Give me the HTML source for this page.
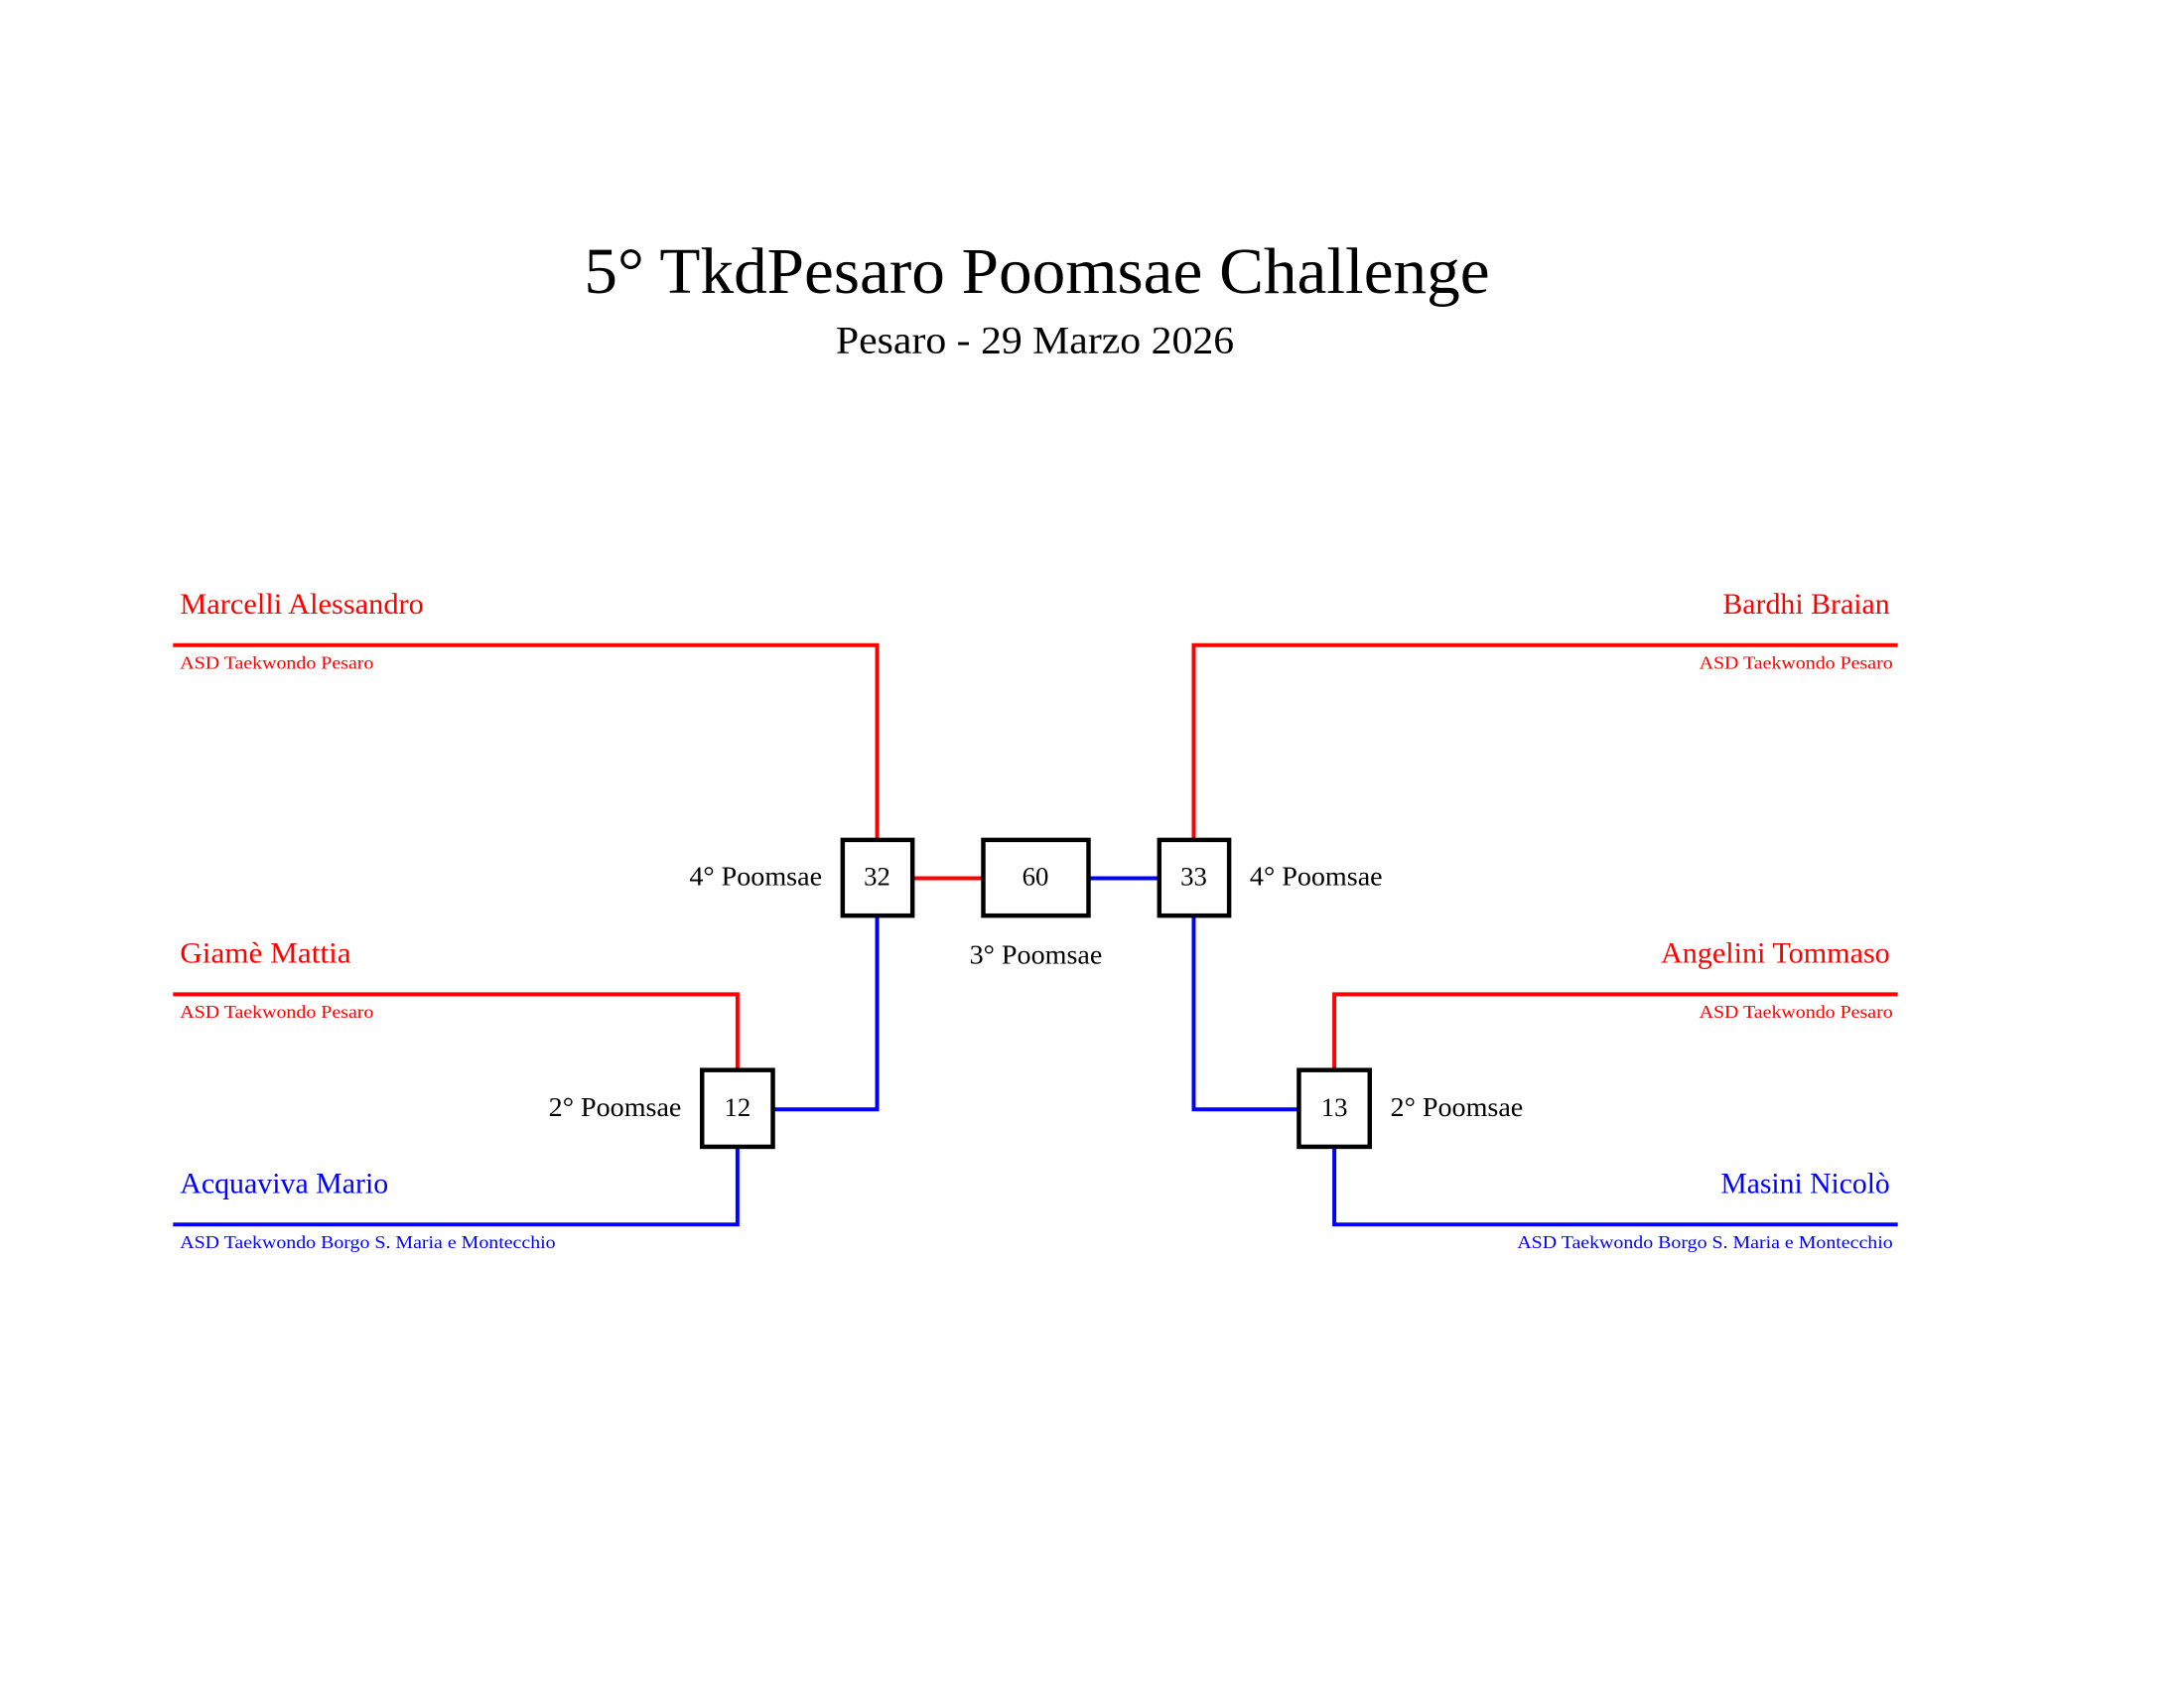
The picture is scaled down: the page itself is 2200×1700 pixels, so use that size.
<!DOCTYPE html>
<html><head><meta charset="utf-8"><style>html,body{margin:0;padding:0;background:#fff}svg{display:block}</style></head><body>
<svg width="2200" height="1700" viewBox="0 0 2200 1700" xmlns="http://www.w3.org/2000/svg" font-family="Liberation Serif, serif">
<rect width="2200" height="1700" fill="#fff"/>
<g transform="scale(0.9905)">
<text x="594" y="298" font-size="66" textLength="921" lengthAdjust="spacingAndGlyphs">5° TkdPesaro Poomsae Challenge</text>
<text x="850" y="359" font-size="40" textLength="405" lengthAdjust="spacingAndGlyphs">Pesaro - 29 Marzo 2026</text>
<g fill="none" stroke-width="4">
<polyline points="176,656 892,656 892,853" stroke="#f00"/>
<polyline points="176,1011 750,1011 750,1087" stroke="#f00"/>
<polyline points="892,931 892,1128 787,1128" stroke="#00f"/>
<polyline points="750,1167 750,1245 176,1245" stroke="#00f"/>
<line x1="928" y1="893" x2="999" y2="893" stroke="#f00"/>
<line x1="1107" y1="893" x2="1178" y2="893" stroke="#00f"/>
<polyline points="1930,656 1214,656 1214,853" stroke="#f00"/>
<polyline points="1930,1011 1357,1011 1357,1087" stroke="#f00"/>
<polyline points="1214,931 1214,1128 1319,1128" stroke="#00f"/>
<polyline points="1357,1167 1357,1245 1930,1245" stroke="#00f"/>
<g stroke="#000" stroke-width="4.5">
<rect x="857" y="854" width="71" height="77"/>
<rect x="1000" y="854" width="107" height="77"/>
<rect x="1179" y="854" width="71" height="77"/>
<rect x="714" y="1088" width="72" height="78"/>
<rect x="1321" y="1088" width="72" height="78"/>
</g></g>
<g font-size="27" text-anchor="middle">
<text x="892" y="900">32</text><text x="1053" y="900">60</text><text x="1214" y="900">33</text>
<text x="750" y="1135">12</text><text x="1357" y="1135">13</text>
</g>
<g font-size="28">
<text x="836" y="900" text-anchor="end" textLength="135" lengthAdjust="spacingAndGlyphs">4° Poomsae</text>
<text x="1271" y="900" textLength="135" lengthAdjust="spacingAndGlyphs">4° Poomsae</text>
<text x="986" y="980" textLength="135" lengthAdjust="spacingAndGlyphs">3° Poomsae</text>
<text x="693" y="1135" text-anchor="end" textLength="135" lengthAdjust="spacingAndGlyphs">2° Poomsae</text>
<text x="1414" y="1135" textLength="135" lengthAdjust="spacingAndGlyphs">2° Poomsae</text>
</g>
<g font-size="30">
<text x="183" y="624" fill="#f00" textLength="248" lengthAdjust="spacingAndGlyphs">Marcelli Alessandro</text>
<text x="183" y="979" fill="#f00" textLength="174" lengthAdjust="spacingAndGlyphs">Giamè Mattia</text>
<text x="183" y="1213" fill="#00f" textLength="212" lengthAdjust="spacingAndGlyphs">Acquaviva Mario</text>
<text x="1922" y="624" fill="#f00" text-anchor="end" textLength="170" lengthAdjust="spacingAndGlyphs">Bardhi Braian</text>
<text x="1922" y="979" fill="#f00" text-anchor="end" textLength="233" lengthAdjust="spacingAndGlyphs">Angelini Tommaso</text>
<text x="1922" y="1213" fill="#00f" text-anchor="end" textLength="172" lengthAdjust="spacingAndGlyphs">Masini Nicolò</text>
</g>
<g font-size="18">
<text x="183" y="680" fill="#f00" textLength="197" lengthAdjust="spacingAndGlyphs">ASD Taekwondo Pesaro</text>
<text x="183" y="1035" fill="#f00" textLength="197" lengthAdjust="spacingAndGlyphs">ASD Taekwondo Pesaro</text>
<text x="183" y="1269" fill="#00f" textLength="382" lengthAdjust="spacingAndGlyphs">ASD Taekwondo Borgo S. Maria e Montecchio</text>
<text x="1925" y="680" fill="#f00" text-anchor="end" textLength="197" lengthAdjust="spacingAndGlyphs">ASD Taekwondo Pesaro</text>
<text x="1925" y="1035" fill="#f00" text-anchor="end" textLength="197" lengthAdjust="spacingAndGlyphs">ASD Taekwondo Pesaro</text>
<text x="1925" y="1269" fill="#00f" text-anchor="end" textLength="382" lengthAdjust="spacingAndGlyphs">ASD Taekwondo Borgo S. Maria e Montecchio</text>
</g>
</g>
</svg>
</body></html>
